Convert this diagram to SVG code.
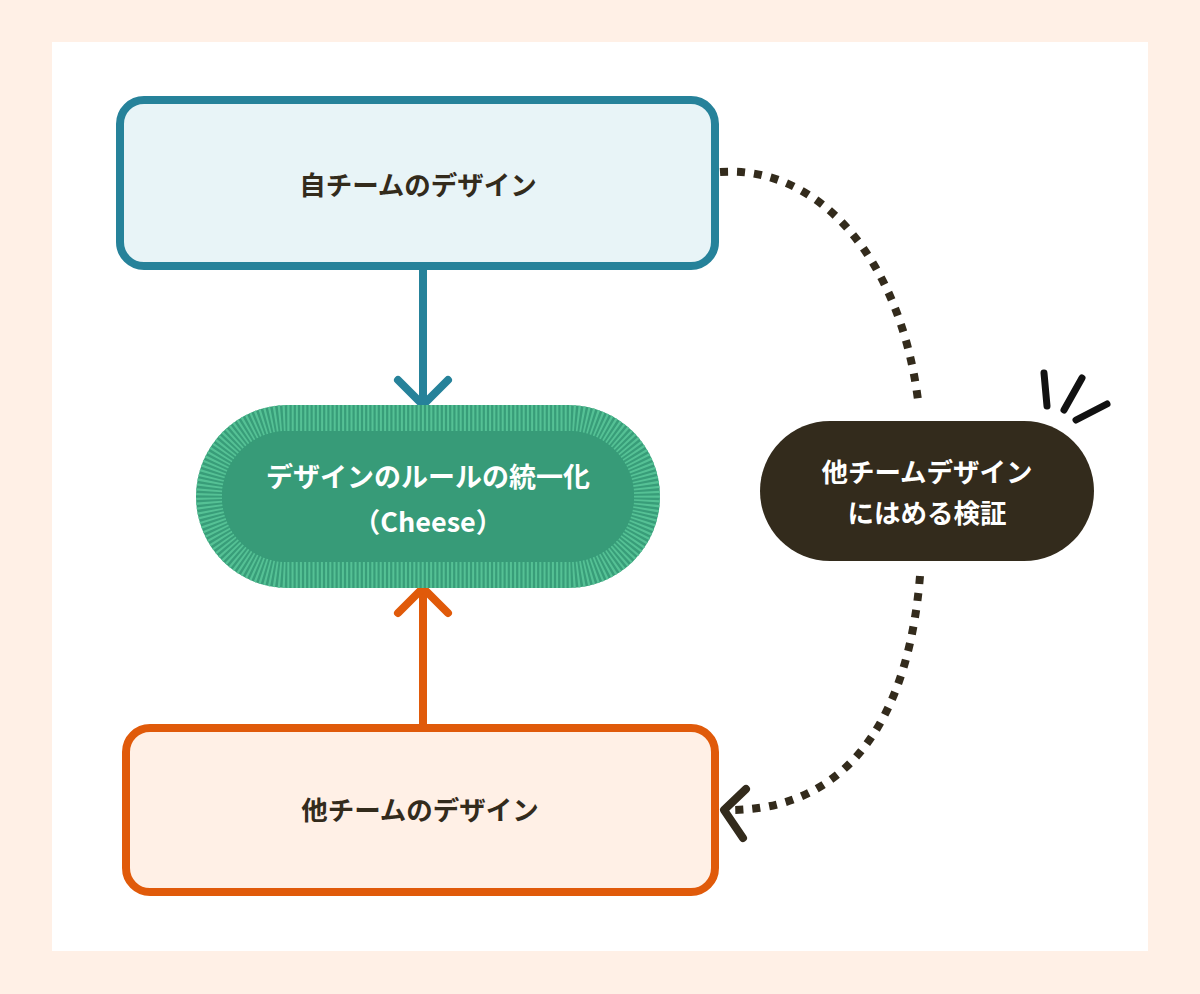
<svg xmlns="http://www.w3.org/2000/svg" width="1200" height="994" viewBox="0 0 1200 994">
<style>
.lbl{font-family:"Noto Sans CJK JP","Noto Sans",sans-serif;font-weight:bold;text-anchor:middle}
.dark{fill:#332b1c;font-size:26.5px}
.white{fill:#ffffff}
.dots{fill:none;stroke:#332b1c;stroke-width:8;stroke-dasharray:8 9}
.arw{fill:none;stroke-width:8;stroke-linecap:round;stroke-linejoin:round}
</style>
<rect width="1200" height="994" fill="#fff0e6"/>
<rect x="52" y="42" width="1096" height="909" fill="#ffffff"/>
<g id="connectors">
<g id="own-to-rule">
<line x1="423" y1="266" x2="423" y2="402" class="arw" stroke="#26829a"/>
<polyline points="398,380 423,405 448,380" class="arw" stroke="#26829a"/>
</g>
<g id="other-to-rule">
<line x1="423" y1="728" x2="423" y2="592" class="arw" stroke="#e05a0a"/>
<polyline points="398,613 423,588 448,613" class="arw" stroke="#e05a0a"/>
</g>
<path id="own-to-verify" d="M720,172 C820,165 900,260 918,400" class="dots"/>
<g id="verify-to-other">
<path d="M920,576 C910,700 860,808 733,810" class="dots"/>
<polyline points="746,789 724,810 743,838" class="arw" stroke="#332b1c"/>
</g>
</g>
<g id="own-design">
<rect x="120" y="100" width="595" height="166" rx="24" fill="#e8f4f7" stroke="#26829a" stroke-width="8"/>
<text x="418" y="195" class="lbl dark">自チームのデザイン</text>
</g>
<g id="rule">
<rect x="196" y="405" width="464" height="183" rx="91.5" fill="#389d79"/>
<rect x="209" y="418" width="438" height="157" rx="78.5" fill="none" stroke="#55c195" stroke-width="26" stroke-dasharray="2 2.2"/>
<rect x="222" y="431" width="412" height="131" rx="65.5" fill="#379b78"/>
<text x="428" y="487" class="lbl white" font-size="27">デザインのルールの統一化</text>
<text x="428" y="532" class="lbl white" font-size="27">（Cheese）</text>
</g>
<g id="other-design">
<rect x="126" y="728" width="589" height="164" rx="24" fill="#fff0e6" stroke="#e05a0a" stroke-width="8"/>
<text x="420" y="820" class="lbl dark">他チームのデザイン</text>
</g>
<g id="verify">
<rect x="760" y="421" width="334" height="140" rx="70" fill="#332b1c"/>
<text x="927" y="482" class="lbl white" font-size="26.5">他チームデザイン</text>
<text x="927" y="523" class="lbl white" font-size="26.5">にはめる検証</text>
<g stroke="#111111" stroke-width="7" stroke-linecap="round">
<line x1="1044" y1="373" x2="1047" y2="406"/>
<line x1="1082" y1="378" x2="1064" y2="410"/>
<line x1="1107" y1="404" x2="1076" y2="420"/>
</g>
</g>
</svg>
